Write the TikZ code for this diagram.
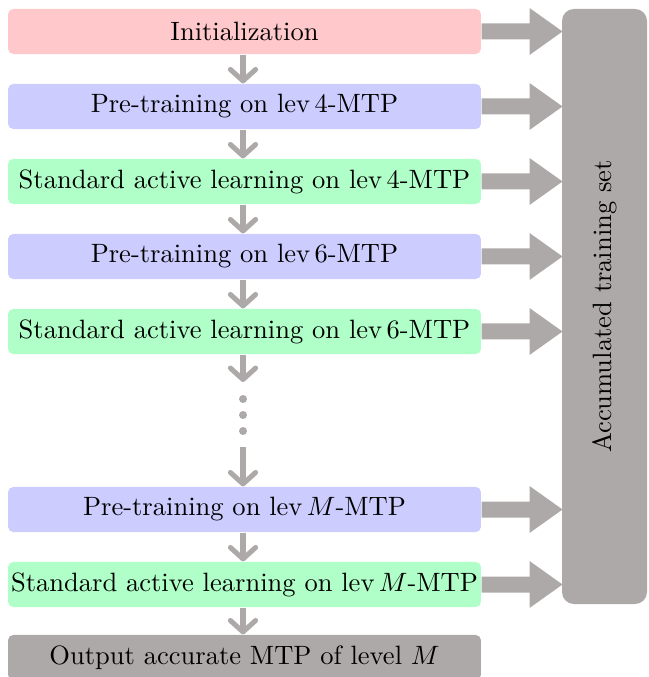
\documentclass[tikz,border=0pt]{standalone}
\usetikzlibrary{arrows.meta}
\definecolor{pinkc}{RGB}{255,200,203}
\definecolor{bluec}{RGB}{204,204,255}
\definecolor{greenc}{RGB}{176,255,200}
\definecolor{grayc}{RGB}{173,169,168}
\tikzset{
  stage/.style={rounded corners=2pt, minimum width=178.3pt, minimum height=17pt, inner sep=0pt, anchor=center},
  flow/.style={draw=grayc, line width=1.9pt, -{Straight Barb[round,length=4.3pt,width=9.5pt]}},
  bigarrow/.style={fill=grayc},
  dotc/.style={circle, fill=grayc, inner sep=0pt, minimum size=3pt}
}
\begin{document}
\begin{tikzpicture}[x=0.377pt, y=-0.377pt]
\useasboundingbox (0,0) rectangle (648,677);
% accumulated box
\node[fill=grayc, rounded corners=4.5pt, minimum width=85*0.377pt, minimum height=595*0.377pt, inner sep=0pt] (acc) at (604.5,306.5) {};
\node[rotate=90] (acct) at (acc.center) {Accumulated training set};
% stages
\node[stage, fill=pinkc] (n1) at (244.5,31.5) {Initialization};
\node[stage, fill=bluec] (n2) at (244.5,106.5) {Pre-training on lev\,4-MTP};
\node[stage, fill=greenc] (n3) at (244.5,181.5) {Standard active learning on lev\,4-MTP};
\node[stage, fill=bluec] (n4) at (244.5,256.5) {Pre-training on lev\,6-MTP};
\node[stage, fill=greenc] (n5) at (244.5,331.5) {Standard active learning on lev\,6-MTP};
\node[stage, fill=bluec] (n6) at (244.5,509.5) {Pre-training on lev\,$M$-MTP};
\node[stage, fill=greenc] (n7) at (244.5,584.5) {Standard active learning on lev\,$M$-MTP};
\node[stage, fill=grayc] (n8) at (244.5,657.5) {Output accurate MTP of level $M$};
% dots
\node[dotc] (d1) at (243,399) {};
\node[dotc] (d2) at (243,415) {};
\node[dotc] (d3) at (243,431) {};
\coordinate (c1) at (243,382);
\coordinate (c2) at (243,447);
% flow arrows
\draw[flow] (n1.south -| 243,0) -- (n2.north -| 243,0);
\draw[flow] (n2.south -| 243,0) -- (n3.north -| 243,0);
\draw[flow] (n3.south -| 243,0) -- (n4.north -| 243,0);
\draw[flow] (n4.south -| 243,0) -- (n5.north -| 243,0);
\draw[flow] (n5.south -| 243,0) -- (c1);
\draw[flow] (c2) -- (n6.north -| 243,0);
\draw[flow] (n6.south -| 243,0) -- (n7.north -| 243,0);
\draw[flow] (n7.south -| 243,0) -- (n8.north -| 243,0);
% big arrows
\foreach \n in {n1,n2,n3,n4,n5,n6,n7}{
  \fill[grayc] (\n.east) ++(0,-8) -- ++(48,0) -- ++(0,-15.5) -- ++(33,23.5) -- ++(-33,23.5) -- ++(0,-15.5) -- ++(-48,0) -- cycle;
}
\end{tikzpicture}
\end{document}
